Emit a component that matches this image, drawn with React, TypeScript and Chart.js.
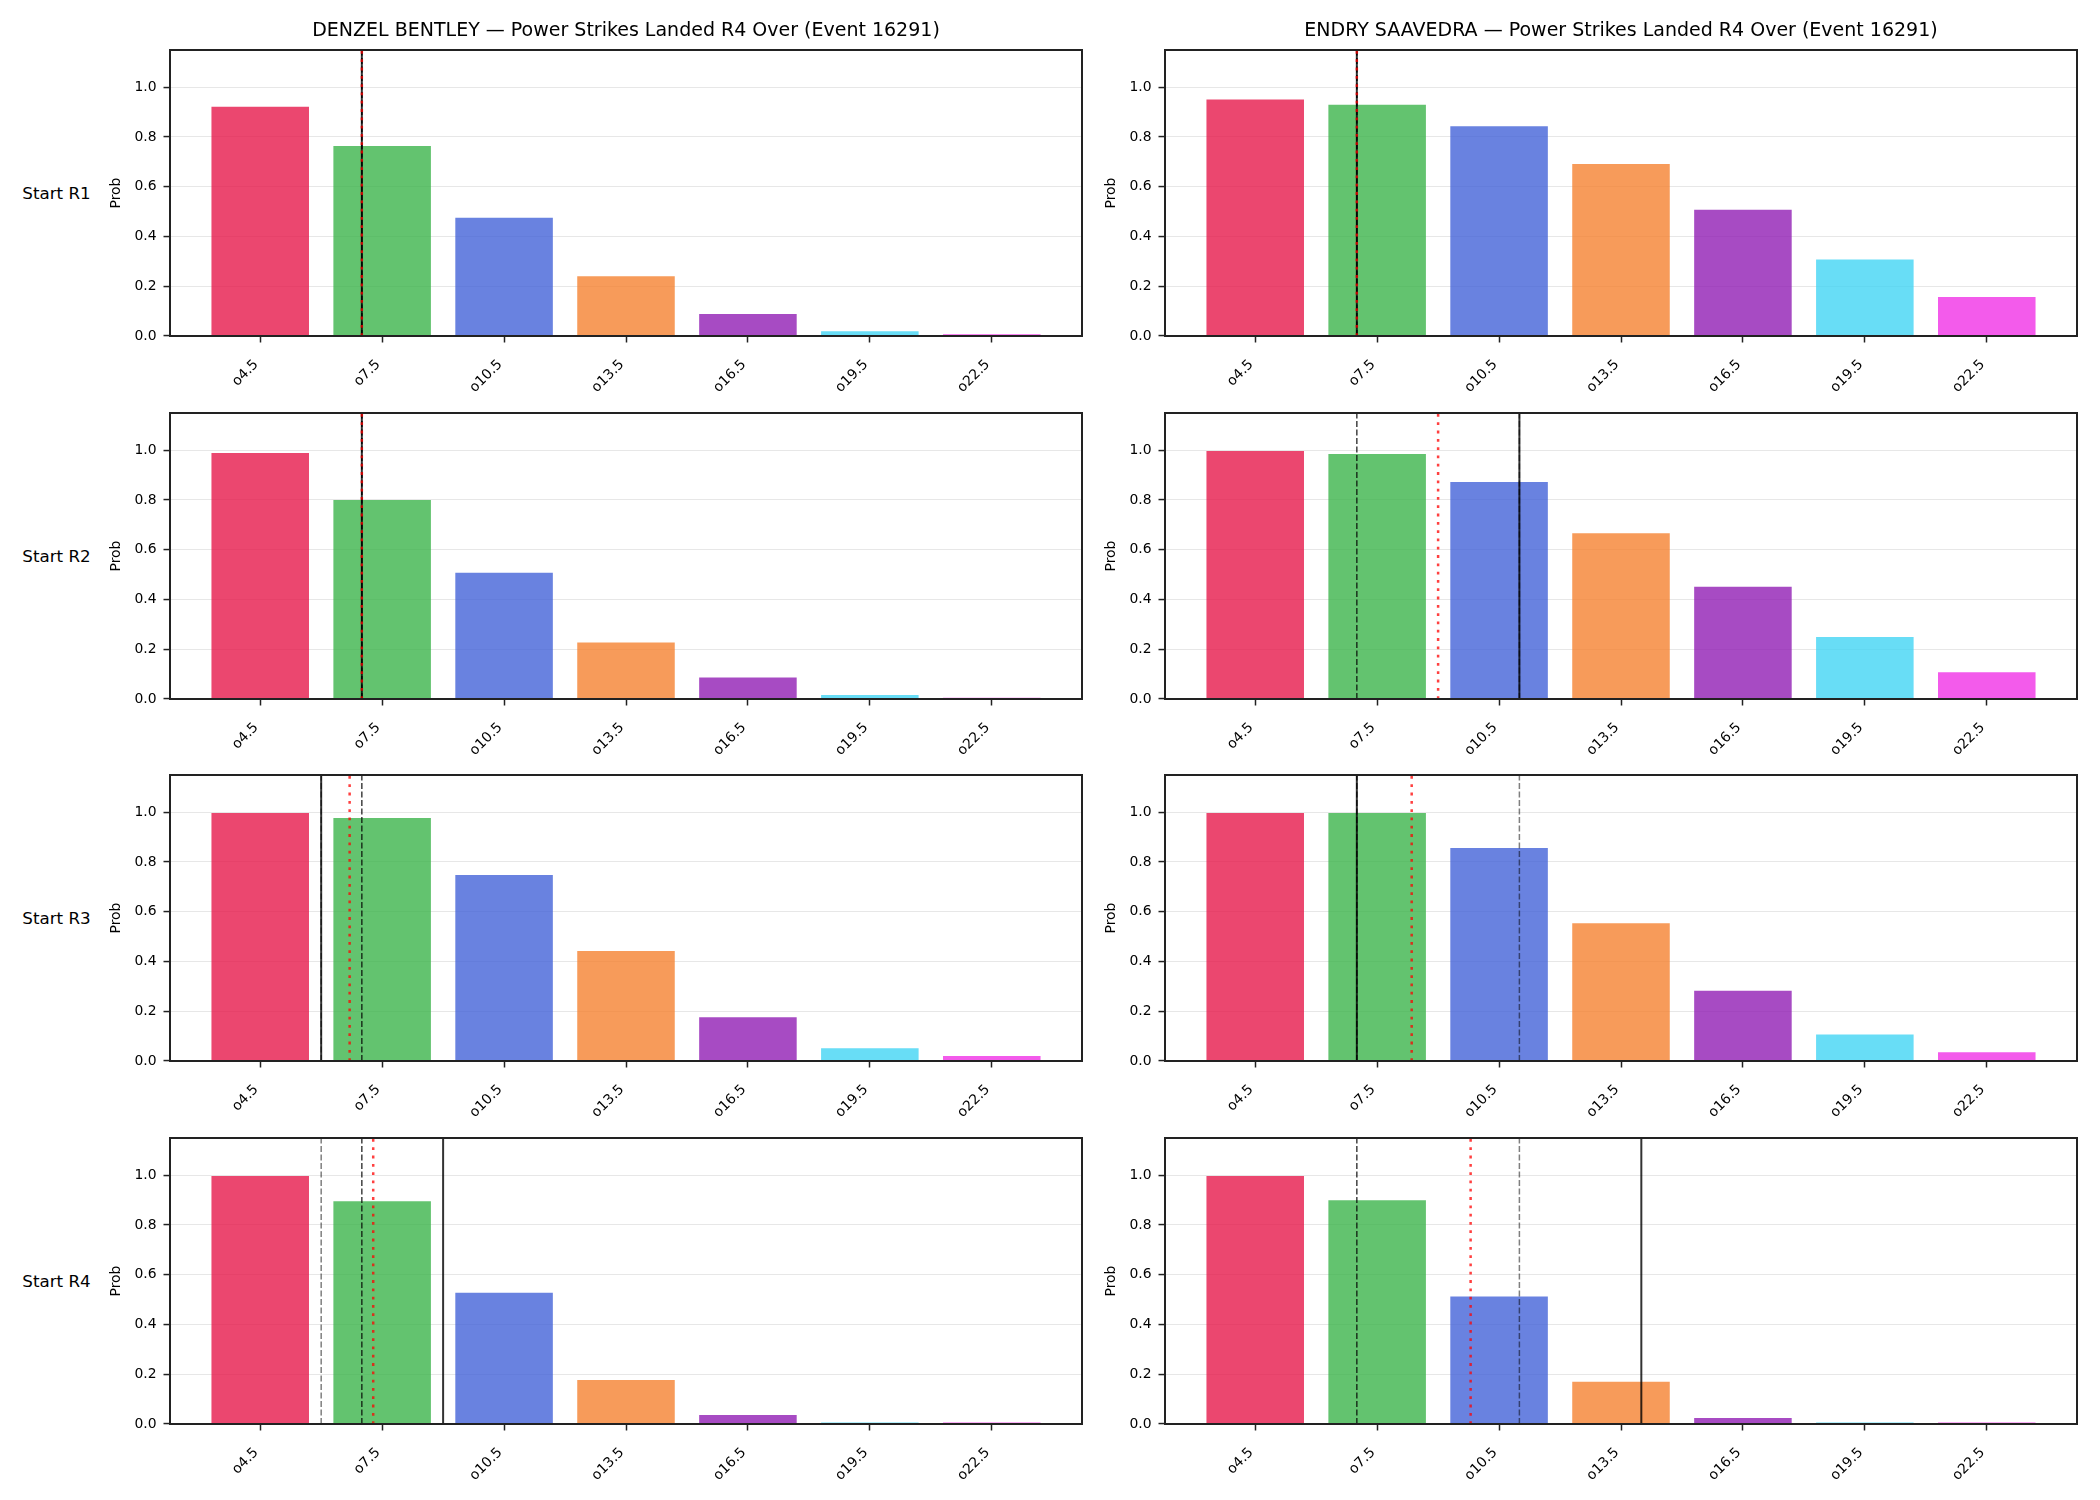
import { useEffect, useRef } from 'react';
import { Chart, registerables } from 'chart.js';

Chart.register(...registerables);
Chart.defaults.font.family = "'DejaVu Sans', sans-serif";
Chart.defaults.color = '#000';

// Over lines shown on the x axis
const CATEGORIES = ['o4.5', 'o7.5', 'o10.5', 'o13.5', 'o16.5', 'o19.5', 'o22.5'];
const LINE_VALUES = [4.5, 7.5, 10.5, 13.5, 16.5, 19.5, 22.5];
const Y_TICKS = [0, 0.2, 0.4, 0.6, 0.8, 1.0];
const Y_MAX = 1.15;
const ROUND_LABELS = ['Start R1', 'Start R2', 'Start R3', 'Start R4'];

const DENZEL_TITLE = 'DENZEL BENTLEY \u2014 Power Strikes Landed R4 Over (Event 16291)';
const ENDRY_TITLE = 'ENDRY SAAVEDRA \u2014 Power Strikes Landed R4 Over (Event 16291)';

// Over probabilities, one array per starting round
const denzelR1 = [0.922, 0.764, 0.475, 0.24, 0.088, 0.019, 0.007];
const denzelR2 = [0.989, 0.8, 0.508, 0.227, 0.086, 0.016, 0.005];
const denzelR3 = [0.997, 0.977, 0.748, 0.442, 0.176, 0.051, 0.02];
const denzelR4 = [0.997, 0.896, 0.528, 0.177, 0.036, 0.006, 0.006];

const endryR1 = [0.951, 0.93, 0.843, 0.692, 0.508, 0.308, 0.157];
const endryR2 = [0.997, 0.985, 0.873, 0.666, 0.451, 0.249, 0.108];
const endryR3 = [0.997, 0.997, 0.856, 0.554, 0.282, 0.107, 0.035];
const endryR4 = [0.997, 0.9, 0.513, 0.17, 0.024, 0.006, 0.006];

// Strike counts drawn as vertical markers, one value per starting round
const denzelLanded = [7.0, 7.0, 6.0, 9.0];
const denzelMedian = [7.0, 7.0, 7.0, 7.0];
const denzelPrior = [7.0, 7.0, 6.0, 6.0];
const denzelProjected = [7.0, 7.0, 6.7, 7.28];

const endryLanded = [7.0, 11.0, 7.0, 14.0];
const endryMedian = [7.0, 7.0, 7.0, 7.0];
const endryPrior = [7.0, 11.0, 11.0, 11.0];
const endryProjected = [7.0, 9.0, 8.35, 9.8];

const BAR_COLORS = [
  'rgba(230,25,75,0.8)',
  'rgba(60,180,75,0.8)',
  'rgba(67,99,216,0.8)',
  'rgba(245,130,49,0.8)',
  'rgba(145,30,180,0.8)',
  'rgba(66,212,244,0.8)',
  'rgba(240,50,230,0.8)',
];

// Page geometry
const AX_W = 912;
const AX_H = 286;
const COL_LEFT = [170, 1165];
const ROW_TOP = [50, 413, 775, 1138];
const Y_AXIS_W = 70;
const X_AXIS_H = 70;
const RIGHT_PAD = 20;

const framePlugin = {
  id: 'frame',
  afterDraw(chart: any) {
    const { ctx, chartArea: a } = chart;
    ctx.save();
    ctx.strokeStyle = '#222';
    ctx.lineWidth = 2;
    ctx.strokeRect(a.left, a.top, a.right - a.left, a.bottom - a.top);
    ctx.restore();
  },
};

type Marks = { landed: number; median: number; prior: number; projected: number };

type PanelProps = {
  probs: number[];
  marks: Marks;
  title?: string;
  axLeft: number;
  axTop: number;
};

function Panel({ probs, marks, title, axLeft, axTop }: PanelProps) {
  const ref = useRef<HTMLCanvasElement>(null);
  const headH = title ? 50 : 20;
  const width = Y_AXIS_W + AX_W + RIGHT_PAD;
  const height = headH + AX_H + X_AXIS_H;

  useEffect(() => {
    const canvas = ref.current;
    if (!canvas) return;
    const step = LINE_VALUES[1] - LINE_VALUES[0];
    const pos = (v: number) => (v - LINE_VALUES[0]) / step;
    const marker = (v: number, color: string, lw: number, dash: number[], order: number) => ({
      type: 'line' as const,
      data: [
        { x: pos(v), y: 0 },
        { x: pos(v), y: Y_MAX },
      ],
      borderColor: color,
      borderWidth: lw,
      borderDash: dash,
      borderCapStyle: 'butt' as const,
      pointRadius: 0,
      fill: false,
      order,
    });

    const chart = new Chart(canvas, {
      type: 'bar',
      data: {
        datasets: [
          {
            type: 'bar',
            data: probs.map((p, i) => ({ x: i, y: p })),
            backgroundColor: BAR_COLORS,
            borderWidth: 0,
            barPercentage: 1,
            categoryPercentage: 0.8,
            order: 10,
          } as any,
          marker(marks.prior, 'rgba(0,0,0,0.5)', 1.5, [6, 2.5], 4),
          marker(marks.median, 'rgba(0,0,0,0.75)', 1.5, [6, 2.5], 3),
          marker(marks.landed, 'rgba(0,0,0,0.8)', 2, [], 2),
          marker(marks.projected, 'rgba(255,0,0,0.75)', 2.5, [2.8, 5.5], 1),
        ],
      },
      options: {
        responsive: false,
        animation: false,
        events: [],
        layout: { padding: { top: title ? 0 : 20, right: RIGHT_PAD, left: 0, bottom: 0 } },
        plugins: {
          legend: { display: false },
          tooltip: { enabled: false },
          title: {
            display: !!title,
            text: title ?? '',
            fullSize: false,
            color: '#000',
            font: { size: 19, weight: 'normal' },
            padding: { top: 19.6, bottom: 7.6 },
          },
        },
        scales: {
          x: {
            type: 'linear',
            min: -0.74,
            max: 6.74,
            offset: false,
            afterBuildTicks: (s: any) => {
              s.ticks = CATEGORIES.map((_, i) => ({ value: i }));
            },
            afterFit: (s: any) => {
              s.height = X_AXIS_H;
            },
            ticks: {
              autoSkip: false,
              minRotation: 45,
              maxRotation: 45,
              padding: 14,
              labelOffset: -4,
              color: '#000',
              font: { size: 13.9 },
              callback: (v: any) => CATEGORIES[Math.round(Number(v))] ?? '',
            },
            grid: {
              offset: false,
              drawOnChartArea: false,
              tickLength: 6.5,
              tickColor: '#222',
              tickWidth: 1.5,
            },
            border: { display: false },
          },
          y: {
            min: 0,
            max: Y_MAX,
            z: 1,
            afterBuildTicks: (s: any) => {
              s.ticks = Y_TICKS.map((v) => ({ value: v }));
            },
            afterFit: (s: any) => {
              s.width = Y_AXIS_W;
            },
            ticks: {
              padding: 7,
              color: '#000',
              font: { size: 13.9 },
              callback: (v: any) => Number(v).toFixed(1),
            },
            grid: {
              color: 'rgba(176,176,176,0.3)',
              lineWidth: 1.1,
              tickLength: 6.5,
              tickColor: '#222',
              tickWidth: 1.5,
            },
            border: { display: false },
            title: {
              display: true,
              text: 'Prob',
              color: '#000',
              font: { size: 13.9 },
              padding: { top: 8, bottom: 0 },
            },
          },
        },
      } as any,
      plugins: [framePlugin],
    });
    return () => chart.destroy();
  }, [probs, marks, title]);

  return (
    <canvas
      ref={ref}
      width={width}
      height={height}
      style={{ position: 'absolute', left: axLeft - Y_AXIS_W, top: axTop - headH, width, height }}
    />
  );
}

const DENZEL_ROUNDS = [denzelR1, denzelR2, denzelR3, denzelR4];
const ENDRY_ROUNDS = [endryR1, endryR2, endryR3, endryR4];

export default function App() {
  return (
    <div
      style={{
        position: 'absolute',
        left: 0,
        top: 0,
        width: 2100,
        height: 1500,
        background: '#fff',
        overflow: 'hidden',
        fontFamily: "'DejaVu Sans', sans-serif",
      }}
    >
      {ROUND_LABELS.map((label, r) => (
        <div
          key={label}
          style={{
            position: 'absolute',
            left: 0,
            width: 113,
            top: ROW_TOP[r] + AX_H / 2,
            transform: 'translateY(-50%)',
            textAlign: 'center',
            fontSize: 16.7,
            color: '#000',
            whiteSpace: 'nowrap',
          }}
        >
          {label}
        </div>
      ))}
      {DENZEL_ROUNDS.map((probs, r) => (
        <Panel
          key={'d' + r}
          probs={probs}
          marks={{
            landed: denzelLanded[r],
            median: denzelMedian[r],
            prior: denzelPrior[r],
            projected: denzelProjected[r],
          }}
          title={r === 0 ? DENZEL_TITLE : undefined}
          axLeft={COL_LEFT[0]}
          axTop={ROW_TOP[r]}
        />
      ))}
      {ENDRY_ROUNDS.map((probs, r) => (
        <Panel
          key={'e' + r}
          probs={probs}
          marks={{
            landed: endryLanded[r],
            median: endryMedian[r],
            prior: endryPrior[r],
            projected: endryProjected[r],
          }}
          title={r === 0 ? ENDRY_TITLE : undefined}
          axLeft={COL_LEFT[1]}
          axTop={ROW_TOP[r]}
        />
      ))}
    </div>
  );
}
